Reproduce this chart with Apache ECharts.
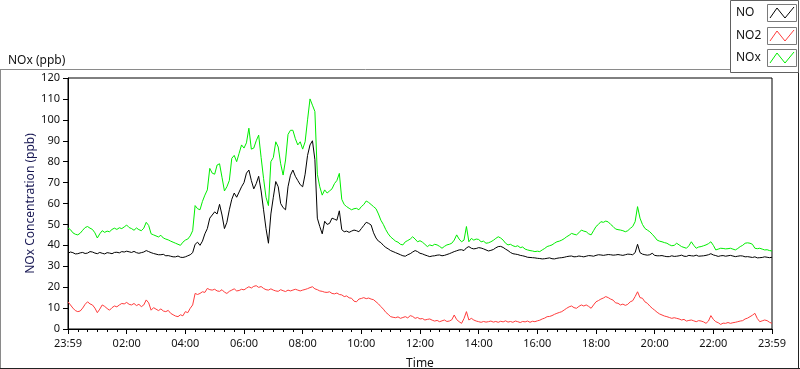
<!DOCTYPE html>
<html>
<head>
<meta charset="utf-8">
<script src="https://cdn.jsdelivr.net/npm/echarts@6/dist/echarts.min.js"></script>
<style>
html,body{margin:0;padding:0;background:#fff;}
#chart{width:800px;height:369px;}
</style>
</head>
<body>
<div id="chart"></div>
<script>
// Sampling: one reading every 5 minutes, starting 23:59 (t=0) until 23:59 next day (t=1440)
const STEP_MIN = 5;
const seriesNames = ["NO", "NO2", "NOx"];
const seriesColors = ["#000000", "#ff3c3c", "#00ee00"];
const chartTitle = "NOx (ppb)";
const yAxisTitle = "NOx Concentration (ppb)";
const xAxisTitle = "Time";

const noValues = [
36.2,36.8,36.5,35.9,36.0,36.4,36.6,36.1,36.3,37.0,36.8,36.3,36.0,36.6,36.2,35.9,36.5,36.3,36.0,36.6,
36.7,36.4,37.0,36.8,37.2,36.9,36.6,37.1,36.5,36.2,36.5,36.8,37.5,37.0,36.5,36.1,35.8,35.5,35.5,35.7,
35.0,35.1,34.8,34.5,34.5,34.9,34.3,34.2,34.5,35.0,35.5,36.5,40.5,41.5,40.0,42.0,45.5,48.0,53.0,54.5,
56.0,55.0,59.6,54.5,48.0,51.0,57.0,62.0,65.0,63.0,65.5,68.0,70.0,74.5,76.0,71.0,67.0,69.5,73.0,66.0,
57.0,48.0,41.0,55.0,63.0,70.5,68.0,60.0,58.0,57.0,68.0,73.5,76.0,73.0,71.0,69.0,68.0,74.0,83.0,88.0,
90.0,81.0,53.0,49.0,45.5,51.5,50.0,50.5,53.0,52.5,52.0,56.5,47.5,46.5,46.8,46.2,46.8,47.3,47.0,46.5,
48.0,49.5,51.0,50.5,49.7,46.0,43.5,42.0,41.3,40.0,39.0,38.3,37.5,37.0,36.5,36.0,35.5,35.0,34.8,35.5,
36.0,36.8,37.5,37.0,36.2,35.9,35.4,35.0,34.6,34.9,35.0,35.3,35.4,35.0,35.2,35.6,36.0,36.5,37.0,37.4,
37.8,37.9,37.5,38.8,39.4,38.6,38.3,38.5,38.9,38.7,38.3,37.8,37.3,37.6,38.0,38.8,39.4,39.5,39.0,38.2,
37.5,36.6,36.0,35.8,35.6,35.2,35.0,34.7,34.3,34.2,34.1,34.0,33.8,33.7,33.5,33.6,33.8,34.0,33.6,33.5,
33.8,34.0,34.1,34.3,34.6,34.8,34.9,34.5,34.6,34.9,34.7,34.5,34.8,35.1,35.0,34.8,35.2,35.5,35.4,35.2,
35.4,35.6,35.5,35.3,35.4,35.6,35.4,35.2,35.5,35.8,35.7,35.5,36.5,40.5,36.5,35.8,35.5,35.3,35.5,36.2,
35.2,35.0,35.0,35.1,34.8,34.6,34.6,35.0,34.7,34.8,35.0,35.3,34.8,34.7,35.2,35.0,34.9,35.3,34.8,34.9,
35.0,35.2,35.5,36.0,35.4,35.1,34.7,35.0,35.1,34.8,35.0,35.2,34.9,34.6,34.8,35.0,34.9,34.5,34.6,34.4,
34.2,34.5,34.0,34.1,34.2,34.5,34.3,34.1,34.3
];
const no2Values = [
13.0,11.5,10.0,8.8,8.3,8.6,10.0,11.8,13.0,12.0,11.5,10.0,7.8,9.5,11.5,10.8,9.8,9.0,10.2,11.0,
10.6,11.5,12.2,12.0,12.7,11.8,11.5,12.2,11.2,11.8,10.7,11.5,13.9,12.5,9.0,10.2,9.5,8.8,9.6,8.6,
8.3,8.9,7.5,6.8,6.2,5.9,6.8,6.3,8.3,7.8,9.9,11.5,17.0,16.5,17.0,17.8,17.5,19.4,18.8,18.6,
19.0,18.2,18.0,18.8,17.6,17.0,18.0,18.6,19.2,18.2,18.4,19.0,18.7,19.5,20.2,19.6,20.4,20.7,19.9,20.3,
19.4,18.8,18.6,19.2,18.6,18.2,18.0,18.8,18.3,17.9,18.6,18.2,18.6,19.0,18.6,18.2,18.6,18.9,19.3,19.8,
20.2,19.2,18.8,18.2,18.0,17.6,17.5,17.8,17.0,16.8,17.2,16.5,16.3,15.5,15.8,14.9,14.7,13.3,13.0,14.3,
14.6,15.0,14.5,14.8,14.3,14.0,13.0,12.0,10.7,9.5,8.0,7.0,5.9,5.6,5.4,5.8,5.1,5.5,5.9,5.3,
6.4,6.0,5.1,5.5,4.8,5.0,4.3,4.6,4.8,4.2,3.8,4.1,3.5,3.9,4.3,3.6,3.8,4.4,6.7,4.5,
3.5,2.7,5.0,8.3,4.3,5.1,4.3,3.8,3.5,3.2,3.6,3.3,3.5,3.8,3.3,3.6,3.2,3.7,3.4,3.9,
3.3,3.6,3.2,3.8,3.5,3.1,3.6,3.4,3.8,3.2,3.7,3.5,3.9,4.2,4.8,5.2,5.9,6.0,6.4,7.0,
7.5,7.9,8.3,9.1,9.9,10.6,11.0,10.2,9.9,10.8,11.5,11.0,11.5,10.8,9.9,11.5,13.0,13.6,14.3,14.8,
15.5,15.0,14.3,13.8,12.5,12.3,11.5,11.9,11.3,11.8,13.0,13.5,15.5,17.8,15.0,14.7,13.0,12.3,11.0,9.9,
9.0,8.0,7.2,6.7,6.2,5.9,5.5,5.1,5.4,5.1,4.8,4.3,4.6,3.8,4.1,4.3,3.9,3.5,4.0,3.8,
3.4,2.7,3.8,6.4,4.6,3.5,3.0,2.2,2.8,2.7,3.1,2.7,3.0,3.2,3.5,3.8,4.0,4.8,5.2,5.9,
6.6,7.5,5.0,3.5,3.9,4.3,4.0,3.2,2.7
];
const noxValues = [
48.3,47.5,46.0,45.3,45.0,45.8,47.2,48.5,49.0,48.2,47.6,46.0,43.5,45.5,47.0,46.2,46.8,46.5,47.6,48.2,
47.6,48.4,48.0,48.8,49.7,48.5,48.0,47.2,48.3,47.5,47.0,48.2,51.0,49.5,45.5,45.0,44.5,44.0,44.8,43.5,
43.0,42.6,42.0,41.5,41.0,40.5,40.0,41.5,42.5,43.0,44.5,47.0,59.0,57.5,57.0,61.0,64.0,66.5,76.8,74.5,
74.0,78.4,79.0,72.5,66.0,68.0,71.0,81.6,83.0,80.0,84.0,88.0,86.5,89.0,96.0,86.0,86.5,90.0,92.7,82.0,
72.0,63.0,59.0,80.0,82.0,89.5,87.0,79.0,73.6,80.8,93.0,95.0,95.0,91.0,88.0,89.5,86.0,89.5,100.0,110.0,
107.0,104.0,74.0,68.0,64.0,66.5,65.0,66.0,67.0,69.5,71.0,74.4,62.0,59.5,58.5,57.7,57.0,57.5,57.7,57.0,
58.5,59.5,61.2,60.5,59.5,58.5,57.5,55.0,52.0,50.0,47.5,45.5,44.0,43.0,42.0,41.5,40.5,40.2,41.7,42.3,
43.0,44.1,43.0,41.7,42.2,41.5,40.5,39.4,40.2,39.8,40.5,40.2,39.5,38.6,39.5,40.2,40.5,41.0,42.5,45.0,
43.0,41.7,42.5,49.0,41.7,43.3,42.5,43.0,42.8,41.7,42.0,41.0,41.2,41.7,42.4,43.3,44.1,43.5,42.5,41.0,
40.2,40.5,39.8,39.4,39.8,38.9,39.2,38.2,37.8,37.5,37.3,37.0,37.2,37.0,37.8,38.5,39.4,39.8,40.2,41.0,
41.7,42.0,42.5,43.2,44.1,44.8,45.7,45.3,45.0,46.0,47.3,46.8,46.5,45.5,45.0,47.0,49.0,50.0,51.3,51.0,
51.6,51.2,50.0,49.0,47.8,47.5,47.3,47.0,46.5,47.0,48.1,49.0,51.3,58.5,53.0,50.0,48.1,47.3,46.5,45.3,
44.0,42.5,42.0,41.7,41.3,41.0,40.3,39.8,40.0,41.0,40.2,39.4,39.0,38.6,39.8,41.7,40.0,38.6,39.2,39.4,
39.8,40.2,40.8,41.7,40.0,37.8,38.2,38.6,38.5,38.3,38.4,38.6,38.2,37.8,38.5,39.4,40.0,41.0,41.2,41.0,
40.5,38.6,38.4,38.6,38.2,37.8,37.9,37.5,37.3
];

const yTicks = {min: 0, max: 120, step: 10};
const xTicks = {min: 0, max: 1440, step: 120};

function pad(n){ return (n < 10 ? "0" : "") + n; }
function timeLabel(v){
  if (v === xTicks.min || v === xTicks.max) return "23:59";
  return pad(Math.floor(v / 60)) + ":00";
}
function pairs(arr){ return arr.map((v, i) => [i * STEP_MIN, v]); }

const valueSets = [noValues, no2Values, noxValues];
const FONT = "Noto Sans";

const chart = echarts.init(document.getElementById("chart"), null, {renderer: "canvas"});

const legendGraphics = [
  {type: "rect", shape: {x: 730.5, y: 0.5, width: 68, height: 72}, style: {fill: "#fff", stroke: "#606060", lineWidth: 1}, z: 10}
];
seriesNames.forEach((name, i) => {
  const top = [4, 27, 49][i];
  legendGraphics.push({type: "text", x: 736, y: top + 9, style: {text: name, fill: "#111", font: "12px " + FONT, textVerticalAlign: "middle"}, z: 11});
  legendGraphics.push({type: "rect", shape: {x: 767.5, y: top + 0.5, width: 29, height: 17}, style: {fill: "#fff", stroke: "#7a7a7a", lineWidth: 1}, z: 11});
  legendGraphics.push({type: "polyline", shape: {points: [[770, top + 14], [777, top + 4], [785, top + 14], [794, top + 3]]}, style: {stroke: seriesColors[i], lineWidth: 1, fill: null}, z: 12});
});

const option = {
  animation: false,
  backgroundColor: "#fff",
  textStyle: {fontFamily: FONT},
  title: {text: chartTitle, left: 3, top: 50, textStyle: {fontSize: 12, fontWeight: "normal", color: "#111", fontFamily: FONT}},
  grid: {left: 68, top: 78, right: 28, bottom: 40, show: true, borderColor: "#000", borderWidth: 1, backgroundColor: "#fff", containLabel: false, outerBoundsMode: "none"},
  xAxis: {
    type: "value", min: xTicks.min, max: xTicks.max, interval: xTicks.step,
    name: xAxisTitle, nameLocation: "middle", nameGap: 29,
    nameTextStyle: {fontSize: 12, color: "#111", fontFamily: FONT},
    axisLine: {show: true, lineStyle: {color: "#000"}},
    axisTick: {show: true, length: 5, lineStyle: {color: "#000"}},
    minorTick: {show: true, splitNumber: 6, length: 3, lineStyle: {color: "#000"}},
    splitLine: {show: false},
    axisLabel: {fontSize: 11, color: "#111", margin: 9, formatter: timeLabel, fontFamily: FONT}
  },
  yAxis: {
    type: "value", min: yTicks.min, max: yTicks.max, interval: yTicks.step,
    name: yAxisTitle, nameLocation: "middle", nameGap: 31, nameMoveOverlap: false,
    nameTextStyle: {fontSize: 12, color: "#1a1a55", fontFamily: FONT},
    axisLine: {show: true, lineStyle: {color: "#000"}},
    axisTick: {show: true, length: 5, lineStyle: {color: "#000"}},
    splitLine: {show: false},
    axisLabel: {fontSize: 11, color: "#111", margin: 8, fontFamily: FONT}
  },
  series: seriesNames.map((name, i) => ({
    name: name, type: "line", data: pairs(valueSets[i]),
    showSymbol: false, symbol: "none",
    lineStyle: {color: seriesColors[i], width: 1},
    itemStyle: {color: seriesColors[i]},
    z: 3
  })),
  graphic: [
    {type: "line", shape: {x1: 0, y1: 69.5, x2: 731, y2: 69.5}, style: {stroke: "#8a8a8a", lineWidth: 1}},
    {type: "line", shape: {x1: 0.5, y1: 69, x2: 0.5, y2: 369}, style: {stroke: "#8a8a8a", lineWidth: 1}},
    {type: "line", shape: {x1: 0, y1: 368.5, x2: 800, y2: 368.5}, style: {stroke: "#222", lineWidth: 1}},
    {type: "line", shape: {x1: 798.5, y1: 72, x2: 798.5, y2: 369}, style: {stroke: "#222", lineWidth: 1}}
  ].concat(legendGraphics)
};
chart.setOption(option);
</script>
</body>
</html>
